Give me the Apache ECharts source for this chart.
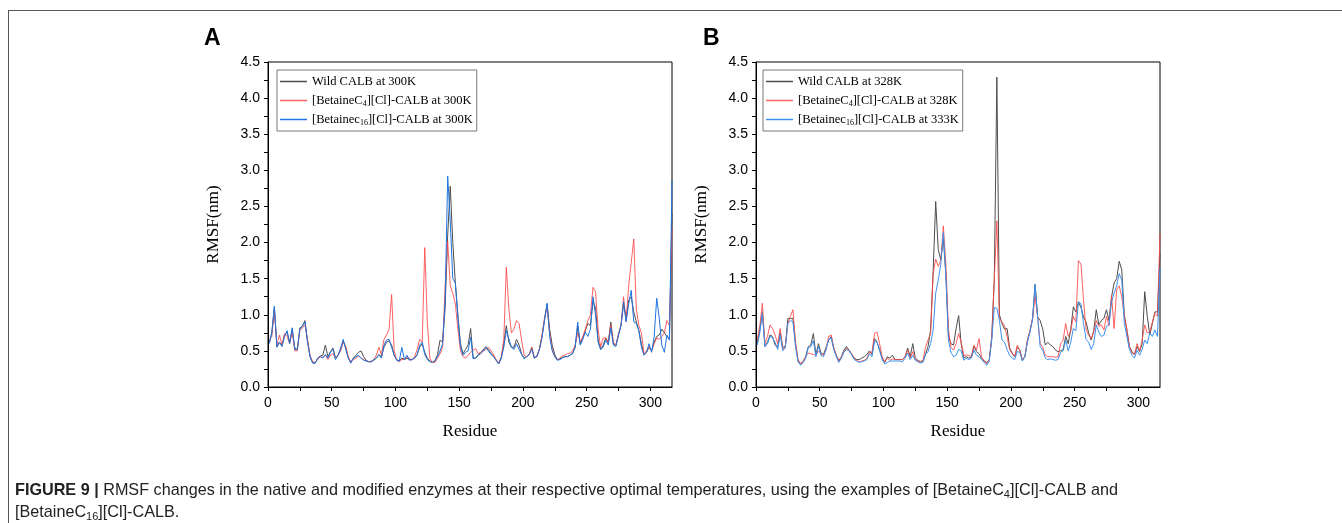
<!DOCTYPE html>
<html><head><meta charset="utf-8">
<script src="https://cdn.jsdelivr.net/npm/echarts@6/dist/echarts.min.js"></script>
<style>
html,body{margin:0;padding:0;background:#fff;}
#wrap{position:relative;width:1342px;height:523px;overflow:hidden;background:#fff;}
#frame{position:absolute;left:8px;top:10px;width:1334px;height:513px;border-top:1px solid #555;border-left:1px solid #555;}
#chart{position:absolute;left:0;top:0;width:1342px;height:523px;}
#cap{position:absolute;left:15px;top:478px;width:1320px;font-family:"Liberation Sans",Arial,sans-serif;font-size:16.2px;line-height:22px;color:#222;}
#cap b{font-weight:bold;}
#cap sub{font-size:11px;vertical-align:-3px;line-height:0;}
</style></head>
<body><div id="wrap"><div id="frame"></div><div id="chart"></div>
<div id="cap"><b>FIGURE 9 |</b> RMSF changes in the native and modified enzymes at their respective optimal temperatures, using the examples of [BetaineC<sub>4</sub>][Cl]-CALB and<br>[BetaineC<sub>16</sub>][Cl]-CALB.</div></div>
<script>
const residues = [1,3,5,7,9,11,13,15,17,19,21,23,25,27,29,31,33,35,37,39,41,43,45,47,49,51,53,55,57,59,61,63,65,67,69,71,73,75,77,79,81,83,85,87,89,91,93,95,97,99,101,103,105,107,109,111,113,115,117,119,121,123,125,127,129,131,133,135,137,139,141,143,145,147,149,151,153,155,157,159,161,163,165,167,169,171,173,175,177,179,181,183,185,187,189,191,193,195,197,199,201,203,205,207,209,211,213,215,217,219,221,223,225,227,229,231,233,235,237,239,241,243,245,247,249,251,253,255,257,259,261,263,265,267,269,271,273,275,277,279,281,283,285,287,289,291,293,295,297,299,301,303,305,307,309,311,313,315,317];

const namesA = ['Wild CALB at 300K', '[BetaineC4][Cl]-CALB at 300K', '[Betainec16][Cl]-CALB at 300K'];
const namesB = ['Wild CALB at 328K', '[BetaineC4][Cl]-CALB at 328K', '[Betainec16][Cl]-CALB at 333K'];

const A_wild = [.62,.75,1.10,.56,.62,.57,.72,.76,.62,.80,
.54,.52,.82,.84,.92,.64,.42,.34,.33,.40,
.43,.44,.58,.42,.49,.54,.40,.44,.54,.64,
.55,.40,.34,.40,.44,.48,.50,.42,.37,.35,
.35,.37,.40,.45,.42,.55,.62,.64,.58,.44,
.38,.36,.40,.38,.40,.38,.38,.40,.45,.55,
.60,.48,.40,.36,.34,.36,.45,.65,.62,1.10,
2.10,2.78,2.00,1.44,1.00,.60,.46,.52,.58,.81,
.40,.40,.45,.48,.52,.56,.52,.46,.43,.37,
.32,.40,.60,.85,.62,.55,.55,.66,.58,.46,
.40,.42,.45,.55,.40,.43,.53,.70,.95,1.15,
.80,.58,.45,.38,.39,.41,.42,.42,.44,.47,
.55,.84,.60,.68,.78,.88,.85,1.18,1.10,.65,
.52,.58,.68,.62,.90,.60,.58,.72,.85,1.15,
.95,1.20,1.25,1.04,.90,.78,.60,.45,.48,.55,
.50,.62,.70,.72,.80,.75,.70,.67,2.40];
const A_c4 = [.65,.70,1.05,.58,.72,.58,.74,.70,.60,.76,
.50,.50,.78,.82,.86,.66,.44,.35,.34,.38,
.42,.41,.44,.38,.44,.46,.40,.44,.50,.62,
.56,.42,.35,.38,.40,.43,.40,.38,.36,.35,
.36,.38,.44,.55,.45,.66,.72,.80,1.28,.50,
.37,.35,.38,.38,.42,.40,.37,.42,.52,.66,
.62,1.93,.90,.40,.34,.34,.40,.46,.55,1.40,
2.02,1.40,1.30,1.15,.80,.50,.42,.40,.44,.48,
.51,.53,.46,.48,.50,.52,.55,.50,.45,.38,
.33,.42,.65,1.66,1.08,.75,.80,.92,.88,.65,
.44,.42,.46,.55,.40,.42,.53,.72,.95,1.10,
.75,.52,.42,.38,.40,.43,.44,.46,.47,.50,
.58,.75,.62,.70,.80,.92,1.00,1.38,1.32,.80,
.55,.68,.68,.60,.86,.62,.58,.74,.86,1.25,
.92,1.40,1.72,2.05,1.08,.85,.75,.46,.50,.56,
.50,.60,.68,.66,.70,.75,.92,.85,2.20];
const A_c16 = [.60,.75,1.12,.55,.62,.56,.70,.78,.60,.82,
.52,.52,.80,.85,.90,.62,.42,.33,.33,.40,
.42,.40,.45,.40,.48,.52,.38,.44,.52,.66,
.52,.40,.33,.40,.42,.44,.40,.37,.36,.35,
.35,.38,.40,.44,.40,.58,.65,.66,.55,.44,
.37,.36,.55,.38,.44,.37,.38,.40,.44,.58,
.62,.45,.38,.35,.34,.36,.42,.50,.60,1.20,
2.92,2.30,1.50,1.44,.95,.56,.44,.48,.50,.69,
.39,.40,.44,.46,.50,.55,.50,.45,.42,.37,
.32,.40,.55,.78,.67,.55,.52,.60,.52,.45,
.39,.42,.45,.52,.40,.42,.52,.68,.92,1.16,
.70,.50,.42,.37,.38,.40,.42,.42,.44,.46,
.55,.90,.58,.66,.76,.70,.80,1.25,1.00,.62,
.52,.55,.65,.58,.82,.58,.56,.72,.85,1.18,
.90,1.15,1.34,.90,.88,.78,.55,.44,.48,.60,
.48,.70,1.23,.95,.58,.48,.72,.65,2.85];

const B_wild = [.60,.80,1.04,.56,.62,.72,.70,.58,.55,.75,
.55,.56,.95,.95,.95,.60,.36,.32,.35,.42,
.56,.58,.74,.45,.60,.47,.45,.55,.65,.70,
.54,.44,.36,.42,.51,.56,.51,.46,.40,.38,
.38,.40,.42,.45,.50,.45,.67,.62,.52,.40,
.34,.42,.40,.44,.38,.38,.38,.38,.42,.54,
.42,.60,.40,.37,.35,.36,.45,.56,.79,1.60,
2.57,1.90,1.76,2.05,1.55,.70,.60,.58,.81,.99,
.60,.40,.42,.40,.42,.56,.49,.46,.40,.36,
.34,.37,.70,1.50,4.29,1.00,.88,.80,.81,.54,
.47,.42,.55,.51,.37,.42,.65,.78,.95,1.42,
.97,.92,.80,.58,.62,.58,.56,.51,.49,.50,
.52,.70,.60,.80,1.11,1.04,1.18,1.10,.97,.90,
.75,.65,.78,1.07,.86,.92,.95,1.07,.92,1.25,
1.44,1.50,1.74,1.62,1.00,.79,.56,.49,.45,.56,
.49,.60,1.32,.98,.72,.88,1.04,1.04,1.85];
const B_c4 = [.65,.85,1.16,.60,.70,.86,.81,.72,.60,.81,
.52,.56,.88,.98,1.07,.62,.38,.32,.36,.42,
.47,.46,.45,.44,.50,.46,.44,.52,.70,.72,
.54,.44,.36,.42,.49,.54,.51,.46,.40,.37,
.35,.36,.37,.40,.48,.48,.74,.76,.60,.42,
.35,.40,.37,.39,.38,.38,.38,.38,.42,.51,
.40,.49,.38,.36,.35,.37,.55,.65,.74,1.57,
1.77,1.67,1.75,2.23,1.70,.80,.55,.51,.60,.74,
.62,.44,.44,.44,.42,.58,.51,.67,.42,.36,
.32,.38,.68,1.50,2.30,.95,.90,.85,.70,.52,
.46,.42,.58,.51,.38,.42,.65,.78,.95,1.25,
.97,.60,.55,.44,.42,.42,.42,.41,.42,.60,
.65,.88,.70,.78,.98,.90,1.75,1.70,1.20,.80,
.72,.67,.76,.92,.84,.86,.79,.98,.85,1.27,
.81,1.35,1.40,1.25,.98,.80,.56,.47,.45,.60,
.50,.65,.86,.75,.76,.90,1.02,.98,2.12];
const B_c16 = [.58,.75,1.02,.56,.60,.70,.68,.62,.52,.72,
.50,.54,.88,.92,.90,.56,.35,.30,.34,.40,
.54,.56,.64,.42,.56,.44,.42,.52,.66,.68,
.52,.42,.34,.40,.48,.52,.50,.45,.38,.36,
.34,.35,.36,.38,.46,.42,.63,.62,.50,.38,
.32,.34,.36,.36,.36,.36,.36,.35,.40,.47,
.38,.44,.37,.35,.33,.34,.45,.49,.60,.79,
1.30,1.48,1.70,2.14,1.53,.65,.48,.42,.44,.52,
.50,.37,.40,.38,.40,.51,.44,.42,.38,.34,
.30,.36,.65,1.10,1.09,.92,.65,.62,.52,.44,
.40,.38,.49,.48,.36,.42,.62,.76,.93,1.42,
.97,.56,.51,.40,.38,.39,.38,.37,.38,.48,
.50,.65,.50,.62,.81,.78,1.18,1.15,.88,.66,
.62,.52,.60,.86,.76,.70,.72,.84,.86,1.18,
1.30,1.40,1.57,1.48,.88,.70,.52,.44,.40,.51,
.44,.52,.65,.60,.75,.70,.79,.70,1.65];

const xTicks = [0,25,50,75,100,125,150,175,200,225,250,275,300];
const xLabels = [0,50,100,150,200,250,300];
const yTicks = [0,0.25,0.5,0.75,1,1.25,1.5,1.75,2,2.25,2.5,2.75,3,3.25,3.5,3.75,4,4.25,4.5];
const yLabels = [0,0.5,1,1.5,2,2.5,3,3.5,4,4.5];

const colors = {wild:'#4d4d4d', c4:'rgba(255,70,70,0.85)', c16A:'#1f74e0', c16B:'#3c90ee'};
const SANS = '"Liberation Sans", Arial, sans-serif';
const SERIF = '"Liberation Serif", "Times New Roman", serif';

function pairs(vals){ return residues.map((r,i)=>[r, vals[i]]); }
function richName(n){ return n.replace('C4]', 'C{sub|4}]').replace('c16]', 'c{sub|16}]'); }

function xAxis(gi){
  return {type:'value', gridIndex:gi, min:0, max:317,
    axisLine:{show:true, onZero:false, lineStyle:{color:'#000', width:1}},
    axisTick:{show:true, inside:false, length:4, customValues:xTicks, lineStyle:{color:'#000'}},
    axisLabel:{customValues:xLabels, color:'#000', fontSize:14, fontFamily:SANS, margin:9},
    splitLine:{show:false},
    name:'Residue', nameLocation:'middle', nameGap:36,
    nameTextStyle:{fontFamily:SERIF, fontSize:17, color:'#000'}};
}
function yAxis(gi){
  return {type:'value', gridIndex:gi, min:0, max:4.5,
    axisLine:{show:true, lineStyle:{color:'#000', width:1}},
    axisTick:{show:true, inside:false, length:4, customValues:yTicks, lineStyle:{color:'#000'}},
    axisLabel:{customValues:yLabels, color:'#000', fontSize:14, fontFamily:SANS, margin:8,
      formatter:v=>v.toFixed(1)},
    splitLine:{show:false},
    name:'RMSF(nm)', nameLocation:'middle', nameGap:46,
    nameTextStyle:{fontFamily:SERIF, fontSize:17, color:'#000'}};
}
function line(name, vals, color, xi){
  return {type:'line', name:name, xAxisIndex:xi, yAxisIndex:xi, data:pairs(vals),
    showSymbol:false, symbol:'none', animation:false,
    lineStyle:{width:1, color:color}, itemStyle:{color:color}};
}
function legend(names, left){
  return {data:names, orient:'vertical', left:left, top:70, icon:'rect', itemWidth:27, itemHeight:1.5,
    itemGap:4, padding:[4,4,4,3], borderColor:'#777', borderWidth:1, backgroundColor:'#fff',
    selectedMode:false,
    formatter:richName,
    textStyle:{fontFamily:SERIF, fontSize:12.5, color:'#000', lineHeight:15,
      rich:{sub:{fontFamily:SERIF, fontSize:8, lineHeight:15, padding:[6,0,0,0], color:'#000'}}}};
}

const chart = echarts.init(document.getElementById('chart'), null, {renderer:'canvas'});
chart.setOption({
  animation:false,
  title:[
    {text:'A', left:204, top:27, padding:0, textStyle:{fontFamily:SANS, fontWeight:'bold', fontSize:23, color:'#000'}},
    {text:'B', left:703, top:27, padding:0, textStyle:{fontFamily:SANS, fontWeight:'bold', fontSize:23, color:'#000'}}
  ],
  grid:[
    {left:268, top:62, width:404, height:325, show:true, borderColor:'#000', borderWidth:1, backgroundColor:'transparent'},
    {left:756, top:62, width:404, height:325, show:true, borderColor:'#000', borderWidth:1, backgroundColor:'transparent'}
  ],
  xAxis:[xAxis(0), xAxis(1)],
  yAxis:[yAxis(0), yAxis(1)],
  legend:[legend(namesA, 277), legend(namesB, 763)],
  series:[
    line(namesA[0], A_wild, colors.wild, 0),
    line(namesA[1], A_c4, colors.c4, 0),
    line(namesA[2], A_c16, colors.c16A, 0),
    line(namesB[0], B_wild, colors.wild, 1),
    line(namesB[1], B_c4, colors.c4, 1),
    line(namesB[2], B_c16, colors.c16B, 1)
  ]
});
</script></body></html>
